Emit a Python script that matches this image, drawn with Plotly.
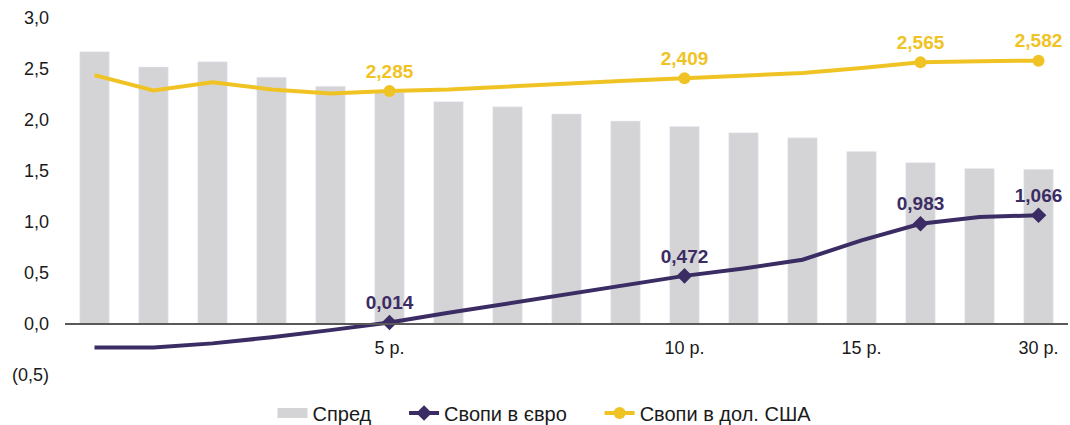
import plotly.graph_objects as go

# Data
categories = list(range(17))
spread = [2.67, 2.52, 2.57, 2.42, 2.33, 2.271, 2.18, 2.13, 2.06, 1.99, 1.937, 1.875, 1.825, 1.69, 1.582, 1.525, 1.516]
usd = [2.44, 2.29, 2.37, 2.30, 2.26, 2.285, 2.30, 2.33, 2.36, 2.385, 2.409, 2.43, 2.46, 2.51, 2.565, 2.577, 2.582]
eur = [-0.23, -0.23, -0.19, -0.13, -0.06, 0.014, 0.11, 0.20, 0.29, 0.38, 0.472, 0.545, 0.63, 0.82, 0.983, 1.05, 1.066]
marked = [5, 10, 14, 16]
tick_pos = [5, 10, 13, 16]
tick_text = ["5 р.", "10 р.", "15 р.", "30 р."]
y_ticks = [-0.5, 0, 0.5, 1.0, 1.5, 2.0, 2.5, 3.0]
y_tick_text = ["(0,5)", "0,0", "0,5", "1,0", "1,5", "2,0", "2,5", "3,0"]
names = ["Спред", "Свопи в євро", "Свопи в дол. США"]

GRAY = "#D4D4D6"
PURPLE = "#3B2C64"
YELLOW = "#F0C324"
FONT = "Liberation Sans, Arial, sans-serif"
FS = 18
PAD = "\u00a0" * 5

def fmt(v):
    return f"{v:.3f}".replace(".", ",")

def sizes(n):
    return [n if i in marked else 0 for i in categories]

def texts(vals):
    return [fmt(v) if i in marked else "" for i, v in zip(categories, vals)]

fig = go.Figure()
fig.add_trace(go.Bar(x=categories, y=spread, name=names[0], marker_color=GRAY,
                     width=0.5, hoverinfo="skip", showlegend=False))
fig.add_trace(go.Scatter(x=categories, y=eur, name=names[1], mode="lines+markers+text",
                         line=dict(color=PURPLE, width=4), showlegend=False,
                         marker=dict(symbol="diamond", size=sizes(12), color=PURPLE,
                                     line_width=0, opacity=1),
                         text=texts(eur), textposition="top center", cliponaxis=False,
                         textfont=dict(family=FONT, size=19, color=PURPLE, weight="bold")))
fig.add_trace(go.Scatter(x=categories, y=usd, name=names[2], mode="lines+markers+text",
                         line=dict(color=YELLOW, width=4), showlegend=False,
                         marker=dict(symbol="circle", size=sizes(12), color=YELLOW,
                                     line_width=0, opacity=1),
                         text=texts(usd), textposition="top center", cliponaxis=False,
                         textfont=dict(family=FONT, size=19, color=YELLOW, weight="bold")))

# legend-only entries
fig.add_trace(go.Scatter(x=[None], y=[None], name=names[0] + PAD, mode="lines",
                         line=dict(color=GRAY, width=10)))
fig.add_trace(go.Scatter(x=[None], y=[None], name=names[1] + PAD, mode="lines+markers",
                         line=dict(color=PURPLE, width=4),
                         marker=dict(symbol="diamond", size=12, color=PURPLE, line_width=0)))
fig.add_trace(go.Scatter(x=[None], y=[None], name=names[2], mode="lines+markers",
                         line=dict(color=YELLOW, width=4),
                         marker=dict(symbol="circle", size=12, color=YELLOW, line_width=0)))

fig.update_layout(
    width=1070, height=425,
    margin=dict(l=65, r=2, t=18, b=50, autoexpand=False),
    paper_bgcolor="white", plot_bgcolor="white",
    font=dict(family=FONT, size=FS, color="#1a1a1a"),
    showlegend=True,
    legend=dict(orientation="h", x=(273 - 65.5) / 1003, xanchor="left",
                y=(375 - 413) / 357, yanchor="middle",
                font=dict(size=20), traceorder="normal", tracegroupgap=0),
    xaxis=dict(range=[-0.5, 16.5], tickvals=tick_pos, ticktext=tick_text,
               showgrid=False, zeroline=False, showline=True, linecolor="#595959", linewidth=1.5,
               ticks="", anchor="free", position=0.5 / 3.5, tickfont=dict(size=FS),
               ticklabelstandoff=8),
    yaxis=dict(range=[-0.5, 3.0], tickvals=y_ticks, ticktext=y_tick_text,
               showgrid=False, zeroline=False, showline=False, ticks="",
               tickfont=dict(size=FS), ticklabelstandoff=15),
)

fig.write_html("out.html", config={"displayModeBar": False},
               post_script="document.body.style.margin='0';")
